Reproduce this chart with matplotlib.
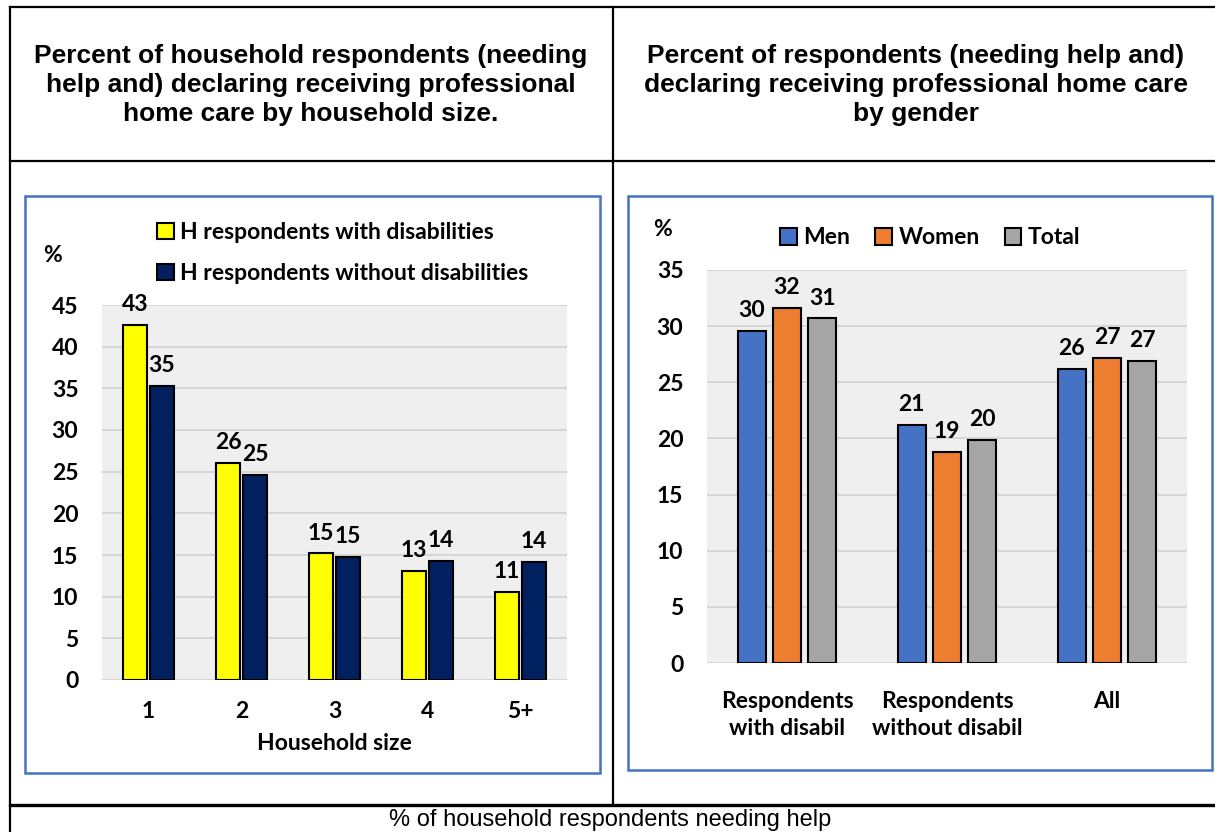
import matplotlib.pyplot as plt
import numpy as np
from matplotlib.patches import Rectangle
from matplotlib.lines import Line2D

# data
sizes = ["1", "2", "3", "4", "5+"]
with_dis = [42.6, 26.1, 15.2, 13.1, 10.6]
without_dis = [35.3, 24.6, 14.8, 14.3, 14.2]

groups = ["Respondents\nwith disabil", "Respondents\nwithout disabil", "All"]
men = [29.6, 21.2, 26.2]
women = [31.6, 18.8, 27.2]
total = [30.7, 19.9, 26.9]

title_left = "Percent of household respondents (needing\nhelp and) declaring receiving professional\nhome care by household size."
title_right = "Percent of respondents (needing help and)\ndeclaring receiving professional home care\nby gender"
caption = "% of household respondents needing help"

W, H = 1215, 832
plt.rcParams['font.family'] = ['Lato', 'DejaVu Sans']
plt.rcParams['font.weight'] = 'bold'
plt.rcParams['axes.labelweight'] = 'bold'
plt.rcParams['font.size'] = 16.5

fig = plt.figure(figsize=(W / 100, H / 100), dpi=100)


def fx(px):
    return px / W


def fy(py):
    return 1 - py / H


def rect(x0, y0, x1, y1):
    return [fx(x0), fy(y1), fx(x1) - fx(x0), fy(y0) - fy(y1)]


# table lines
lw_tab = 1.6
for (x0, y0, x1, y1, lw) in [(10, 7, 1215, 7, lw_tab), (10, 7, 10, 832, lw_tab),
                            (613, 7, 613, 805, lw_tab), (10, 161, 1215, 161, lw_tab),
                            (10, 805, 1215, 805, 2.4)]:
    fig.add_artist(Line2D([fx(x0), fx(x1)], [fy(y0), fy(y1)], color='black', lw=lw))

# chart boxes
for (x0, y0, x1, y1) in [(25, 196, 600, 773), (628, 196, 1212, 770)]:
    fig.add_artist(Rectangle((fx(x0), fy(y1)), fx(x1) - fx(x0), fy(y0) - fy(y1),
                             transform=fig.transFigure, fill=False,
                             edgecolor='#4472C4', lw=1.8))

fig.text(fx(311), fy(85), title_left, ha='center', va='center', fontsize=19,
         family='Liberation Sans', weight='bold', linespacing=1.26)
fig.text(fx(916), fy(85), title_right, ha='center', va='center', fontsize=19,
         family='Liberation Sans', weight='bold', linespacing=1.26)
fig.text(fx(610), fy(826), caption, ha='center', va='baseline', fontsize=17,
         family='Liberation Sans', weight='normal')


def style(ax, ymax):
    ax.set_facecolor('#efefef')
    for s in ax.spines.values():
        s.set_visible(False)
    ax.set_ylim(0, ymax)
    ax.set_yticks(np.arange(0, ymax + 1, 5))
    ax.yaxis.grid(True, color='#d4d4d4', lw=1.3)
    ax.set_axisbelow(True)
    ax.tick_params(length=0)
    ax.tick_params(axis='y', pad=17)


# left chart
ax1 = fig.add_axes(rect(102, 305, 567, 680))
style(ax1, 45)
x = np.arange(len(sizes))
bw = 0.25
b1 = ax1.bar(x - 0.145, with_dis, bw, color='#FFFF00', edgecolor='black', lw=1.5,
             label='H respondents with disabilities')
b2 = ax1.bar(x + 0.145, without_dis, bw, color='#002060', edgecolor='black', lw=1.5,
             label='H respondents without disabilities')
ax1.bar_label(b1, labels=[str(round(v)) for v in with_dis], padding=7)
ax1.bar_label(b2, labels=[str(round(v)) for v in without_dis], padding=7)
ax1.set_xlim(-0.5, len(sizes) - 0.5)
ax1.set_xticks(x)
ax1.set_xticklabels(sizes)
ax1.tick_params(axis='x', pad=15)
ax1.set_xlabel("Household size", labelpad=8)
fig.legend(handles=[b1, b2], loc='center left', bbox_to_anchor=(fx(146), fy(253)),
           frameon=False, borderpad=0, handlelength=0.7, handleheight=0.7,
           handletextpad=0.3, labelspacing=0.85)
fig.text(fx(53), fy(255), "%", ha='center', va='center')

# right chart
ax2 = fig.add_axes(rect(707, 270, 1187, 663))
style(ax2, 35)
x2 = np.arange(len(groups))
bw2 = 0.175
r1 = ax2.bar(x2 - 0.22, men, bw2, color='#4472C4', edgecolor='black', lw=1.5, label='Men')
r2 = ax2.bar(x2, women, bw2, color='#ED7D31', edgecolor='black', lw=1.5, label='Women')
r3 = ax2.bar(x2 + 0.22, total, bw2, color='#A5A5A5', edgecolor='black', lw=1.5, label='Total')
for bars, vals in [(r1, men), (r2, women), (r3, total)]:
    ax2.bar_label(bars, labels=[str(round(v)) for v in vals], padding=7)
ax2.set_xlim(-0.5, len(groups) - 0.5)
ax2.set_xticks(x2)
ax2.set_xticklabels(groups, va='top')
for t in ax2.get_xticklabels():
    t.set_linespacing(1.35)
ax2.tick_params(axis='x', pad=20)
fig.legend(handles=[r1, r2, r3], loc='center left', bbox_to_anchor=(fx(769), fy(238)),
           ncol=3, frameon=False, borderpad=0, handlelength=0.7, handleheight=0.7,
           handletextpad=0.3, columnspacing=1.1)
fig.text(fx(662), fy(230), "%", ha='center', va='center')

fig.savefig("out.png", dpi=100)
